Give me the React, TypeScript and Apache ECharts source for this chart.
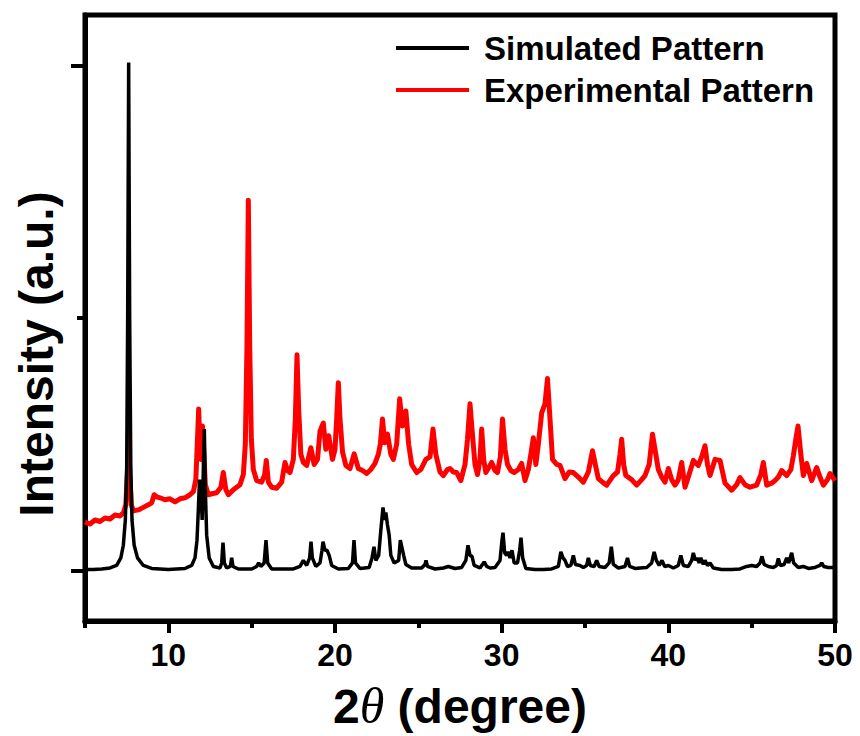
import React, { useEffect, useRef } from "react";
import * as echarts from "echarts";

const FONT = "'Liberation Sans', Arial, Helvetica, sans-serif";

const seriesNames = ["Simulated Pattern", "Experimental Pattern"];
const seriesColors = ["#000000", "#ff0000"];

const xMajorTicks = [10, 20, 30, 40, 50];
const xMinorTicks = [5, 15, 25, 35, 45];
const yMajorTicks = [0, 100];
const yMinorTicks = [50];

// Simulated pattern: [2θ, intensity]
const simulatedPattern: [number, number][] = [
  [5.0, 0.2], [5.5, 0.2], [6.0, 0.3], [6.5, 0.5], [6.9, 1], [7.15, 2.5], [7.3, 5], [7.42, 10], [7.5, 20],
  [7.56, 50], [7.62, 100.6], [7.68, 50], [7.75, 20], [7.82, 10], [7.95, 5], [8.15, 2.5], [8.5, 1], [9.0, 0.4],
  [10.0, 0.2], [11.0, 0.4], [11.4, 1], [11.6, 2.5], [11.72, 6], [11.8, 12], [11.87, 18], [11.93, 12], [11.98, 14],
  [12.03, 10], [12.1, 20], [12.16, 28], [12.22, 16], [12.3, 7], [12.45, 2.5], [12.7, 0.8], [13.1, 0.5], [13.2, 1.5],
  [13.28, 5.5], [13.36, 1.5], [13.5, 0.5], [13.72, 0.8], [13.8, 2.5], [13.88, 0.8], [14.2, 0.3], [15.0, 0.3],
  [15.3, 0.8], [15.42, 1.5], [15.55, 0.8], [15.75, 1.5], [15.86, 6], [15.96, 1.5], [16.2, 0.3], [17.5, 0.3],
  [17.9, 0.8], [18.1, 2], [18.3, 1], [18.48, 2.5], [18.56, 5.7], [18.64, 2.5], [18.85, 0.8], [19.1, 1.5],
  [19.22, 4], [19.28, 5.7], [19.4, 4], [19.52, 4], [19.65, 3], [19.8, 1], [20.2, 0.3], [20.8, 0.4], [21.05, 1.5],
  [21.14, 6], [21.23, 1.5], [21.5, 0.4], [22.05, 0.6], [22.22, 2.5], [22.34, 4.7], [22.45, 2], [22.62, 3],
  [22.75, 8], [22.88, 12.5], [22.97, 10], [23.05, 11.5], [23.15, 9], [23.25, 7], [23.35, 3], [23.55, 1.5],
  [23.82, 2], [23.92, 6], [24.02, 4.5], [24.12, 3], [24.25, 1.2], [24.6, 0.5], [25.2, 0.5], [25.4, 1.2],
  [25.46, 2], [25.55, 0.8], [26.0, 0.3], [26.5, 0.5], [26.8, 0.8], [27.2, 0.4], [27.6, 0.6], [27.85, 2],
  [27.98, 5], [28.1, 3], [28.22, 2.8], [28.35, 1], [28.7, 0.5], [28.95, 1.7], [29.1, 0.8], [29.3, 0.5],
  [29.6, 0.6], [29.9, 2], [30.02, 6], [30.08, 7.5], [30.18, 3.5], [30.3, 3], [30.38, 3.7], [30.5, 2.5],
  [30.62, 4], [30.75, 1.5], [30.95, 1.5], [31.08, 4], [31.16, 6.5], [31.26, 2.5], [31.45, 0.4], [32.0, 0.2],
  [32.5, 0.2], [33.0, 0.3], [33.4, 0.8], [33.55, 3.7], [33.68, 2.5], [33.8, 2], [33.95, 0.8], [34.15, 1],
  [34.3, 3], [34.42, 1.2], [34.7, 1], [34.9, 0.6], [35.1, 1], [35.2, 2.5], [35.32, 1], [35.55, 0.8], [35.7, 2],
  [35.85, 0.8], [36.2, 0.6], [36.45, 1.5], [36.58, 4.7], [36.7, 1.2], [37.0, 0.5], [37.4, 0.8], [37.55, 2.5],
  [37.68, 0.8], [38.0, 0.4], [38.3, 0.5], [38.7, 0.6], [39.0, 1.5], [39.15, 3.7], [39.28, 2], [39.45, 1],
  [39.62, 2], [39.78, 0.8], [40.0, 1], [40.3, 0.5], [40.6, 1], [40.75, 3], [40.9, 1], [41.2, 0.8], [41.4, 2],
  [41.5, 3.5], [41.62, 2], [41.72, 2.5], [41.85, 1.5], [41.95, 2.5], [42.1, 1.2], [42.2, 2], [42.35, 1],
  [42.5, 1.5], [42.7, 0.5], [43.2, 0.2], [43.8, 0.2], [44.3, 0.3], [44.7, 0.8], [45.0, 1], [45.3, 0.8],
  [45.5, 1.5], [45.62, 2.8], [45.75, 1.2], [46.0, 0.8], [46.3, 0.6], [46.5, 1], [46.6, 2.4], [46.72, 1],
  [46.95, 1.2], [47.1, 2.5], [47.22, 1.5], [47.4, 3.5], [47.52, 1.5], [47.8, 0.6], [48.1, 0.8], [48.4, 0.4],
  [48.8, 0.6], [49.1, 1], [49.2, 1.5], [49.32, 0.8], [49.6, 0.6], [50.0, 0.6],
];

// Experimental pattern: [2θ, intensity]
const experimentalPattern: [number, number][] = [
  [5.0, 9.6], [5.3, 9.2], [5.6, 10.0], [5.9, 9.7], [6.2, 10.4], [6.5, 10.2], [6.8, 11.0], [7.1, 10.8],
  [7.3, 11.4], [7.45, 13], [7.55, 20], [7.62, 28.4], [7.68, 20], [7.78, 13], [7.9, 11.8], [8.2, 12.0],
  [8.5, 12.5], [8.8, 13.0], [9.0, 13.4], [9.15, 15.0], [9.3, 14.6], [9.5, 14.4], [9.8, 14.0], [10.1, 14.2],
  [10.4, 13.6], [10.7, 14.2], [11.0, 14.4], [11.3, 15.0], [11.5, 15.6], [11.65, 18], [11.75, 26], [11.82, 32],
  [11.9, 24], [11.97, 22], [12.05, 28.6], [12.12, 24], [12.22, 17], [12.4, 15], [12.6, 15.2], [12.9, 15.4],
  [13.15, 16.5], [13.3, 19.4], [13.45, 16], [13.6, 15], [13.9, 16], [14.1, 16.5], [14.3, 17], [14.5, 19],
  [14.62, 25], [14.72, 45], [14.8, 73.3], [14.88, 45], [14.98, 26], [15.1, 20], [15.3, 17.8], [15.6, 17.5],
  [15.78, 19], [15.88, 21.8], [16.0, 17.5], [16.2, 16.5], [16.5, 16.3], [16.8, 17.5], [17.0, 21.4],
  [17.15, 19.8], [17.3, 19.4], [17.5, 22], [17.62, 30], [17.72, 42.7], [17.82, 32], [17.95, 23], [18.1, 21.4],
  [18.3, 20.8], [18.55, 24.3], [18.75, 21], [18.95, 22], [19.1, 27.6], [19.3, 29.2], [19.45, 24], [19.62, 26.7],
  [19.85, 22], [20.0, 24], [20.1, 30], [20.2, 37.2], [20.3, 30], [20.45, 23.5], [20.65, 20.8], [20.9, 20.2],
  [21.15, 23.1], [21.4, 20.2], [21.65, 19.8], [21.9, 19.2], [22.15, 20], [22.4, 21.2], [22.6, 23], [22.72, 25],
  [22.85, 30], [22.98, 25.3], [23.15, 27], [23.35, 23], [23.5, 22], [23.7, 25], [23.88, 34], [24.05, 28.6],
  [24.25, 31.6], [24.42, 25], [24.6, 21], [24.9, 19.4], [25.15, 20], [25.45, 22], [25.7, 22.5], [25.88, 28],
  [26.05, 23], [26.3, 19.5], [26.5, 18.8], [26.75, 20], [26.9, 20.2], [27.1, 19.5], [27.3, 19.4], [27.55, 17.8],
  [27.8, 21], [27.95, 26], [28.1, 33], [28.22, 28], [28.4, 21], [28.55, 19], [28.7, 22], [28.8, 28], [28.92, 22],
  [29.05, 19.4], [29.25, 20.5], [29.4, 21.4], [29.6, 19.8], [29.75, 19.4], [29.92, 22.5], [30.05, 30], [30.2, 24],
  [30.35, 21], [30.55, 19.8], [30.75, 19.4], [31.0, 20], [31.2, 21.2], [31.4, 17.8], [31.6, 20], [31.75, 23],
  [31.9, 26.3], [32.05, 21], [32.2, 25], [32.4, 31.2], [32.6, 33], [32.75, 38], [32.9, 30], [33.05, 22],
  [33.3, 21], [33.5, 20.8], [33.8, 18.2], [34.05, 19.5], [34.3, 19.4], [34.6, 18.5], [34.9, 17.5], [35.2, 19.5],
  [35.45, 23.7], [35.65, 20.5], [35.8, 18.2], [36.05, 17.5], [36.3, 16.9], [36.7, 18.8], [36.95, 19.5],
  [37.1, 23], [37.2, 26], [37.32, 21], [37.45, 18.8], [37.8, 18], [38.1, 16.9], [38.4, 18], [38.6, 18.8],
  [38.85, 21], [39.05, 27], [39.2, 24], [39.4, 20], [39.6, 18.5], [39.8, 17.5], [40.0, 20.2], [40.2, 18],
  [40.4, 16.9], [40.6, 18], [40.8, 21.4], [41.0, 16.5], [41.2, 18.5], [41.5, 21.8], [41.8, 20.8], [42.0, 22.5],
  [42.2, 24.7], [42.35, 21], [42.5, 18.8], [42.8, 22], [43.1, 21.8], [43.4, 17.3], [43.8, 15.9], [44.1, 17],
  [44.3, 18.4], [44.6, 17], [44.9, 16.5], [45.3, 16.9], [45.55, 19], [45.7, 21.4], [45.9, 16.9], [46.2, 17.3],
  [46.4, 17.8], [46.6, 18.5], [46.8, 19.8], [47.1, 18.8], [47.35, 20], [47.5, 22.7], [47.65, 26], [47.78, 28.6],
  [47.95, 23], [48.1, 18.8], [48.3, 21.2], [48.6, 17.8], [48.9, 20.4], [49.1, 18.5], [49.3, 16.9], [49.55, 18],
  [49.7, 19.2], [49.85, 18.5], [50.0, 17.8],
];

export default function App() {
  const ref = useRef<HTMLDivElement>(null);

  useEffect(() => {
    if (!ref.current) return;
    const chart = echarts.init(ref.current, undefined, { renderer: "svg" });
    const axisColor = "#000";
    const option: any = {
      animation: false,
      backgroundColor: "#fff",
      grid: {
        left: 85,
        right: 25,
        top: 15,
        bottom: 109,
        show: true,
        borderColor: axisColor,
        borderWidth: 5,
        containLabel: false,
      },
      legend: {
        orient: "vertical",
        left: 391,
        top: 25,
        itemWidth: 73,
        itemHeight: 4,
        itemGap: 6,
        icon: "rect",
        selectedMode: false,
        data: seriesNames,
        textStyle: {
          fontFamily: FONT,
          fontSize: 33,
          fontWeight: "bold",
          color: "#000",
          lineHeight: 36,
          padding: [0, 0, 0, 10],
        },
      },
      xAxis: [
        {
          type: "value",
          min: 5,
          max: 50,
          position: "bottom",
          axisLine: { show: true, onZero: false, lineStyle: { color: axisColor, width: 5 } },
          axisTick: { show: true, customValues: xMajorTicks, length: 12, lineStyle: { color: axisColor, width: 4 } },
          axisLabel: {
            customValues: xMajorTicks,
            margin: 18,
            fontFamily: FONT,
            fontSize: 32,
            fontWeight: "bold",
            color: "#000",
          },
          splitLine: { show: false },
          name: "{a|2}{b|θ}{c| (degree)}",
          nameLocation: "middle",
          nameGap: 60,
          nameTextStyle: {
            rich: {
              a: { fontFamily: FONT, fontSize: 48, fontWeight: "bold", color: "#000" },
              b: { fontFamily: "'Liberation Serif', 'Times New Roman', serif", fontSize: 50, fontStyle: "italic", fontWeight: "normal", color: "#000" },
              c: { fontFamily: FONT, fontSize: 48, fontWeight: "bold", color: "#000" },
            },
          },
        },
        {
          type: "value",
          min: 5,
          max: 50,
          position: "bottom",
          axisLine: { show: false, onZero: false },
          axisTick: { show: true, customValues: xMinorTicks, length: 7, lineStyle: { color: axisColor, width: 4 } },
          axisLabel: { show: false },
          splitLine: { show: false },
        },
      ],
      yAxis: [
        {
          type: "value",
          min: -10,
          max: 110,
          position: "left",
          axisLine: { show: true, onZero: false, lineStyle: { color: axisColor, width: 5 } },
          axisTick: { show: true, customValues: yMajorTicks, length: 14, lineStyle: { color: axisColor, width: 4 } },
          axisLabel: { show: false },
          splitLine: { show: false },
        },
        {
          type: "value",
          min: -10,
          max: 110,
          position: "left",
          axisLine: { show: false, onZero: false },
          axisTick: { show: true, customValues: yMinorTicks, length: 8, lineStyle: { color: axisColor, width: 4 } },
          axisLabel: { show: false },
          splitLine: { show: false },
        },
      ],
      graphic: [
        {
          type: "text",
          x: 36,
          y: 354,
          rotation: Math.PI / 2,
          style: {
            text: "Intensity (a.u.)",
            fontFamily: FONT,
            fontSize: 48,
            fontWeight: "bold",
            fill: "#000",
            align: "center",
            verticalAlign: "middle",
            textAlign: "center",
            textVerticalAlign: "middle",
          },
        },
      ],
      series: [
        {
          name: seriesNames[0],
          type: "line",
          xAxisIndex: 0,
          yAxisIndex: 0,
          data: simulatedPattern,
          showSymbol: false,
          symbol: "none",
          color: seriesColors[0],
          lineStyle: { color: seriesColors[0], width: 3.5 },
          z: 3,
        },
        {
          name: seriesNames[1],
          type: "line",
          xAxisIndex: 0,
          yAxisIndex: 0,
          data: experimentalPattern,
          showSymbol: false,
          symbol: "none",
          color: seriesColors[1],
          lineStyle: { color: seriesColors[1], width: 5, join: "round" },
          z: 2,
        },
      ],
    };
    chart.setOption(option);
    return () => chart.dispose();
  }, []);

  return (
    <div
      ref={ref}
      style={{ position: "fixed", left: 0, top: 0, width: 860, height: 736, background: "#fff" }}
    />
  );
}
